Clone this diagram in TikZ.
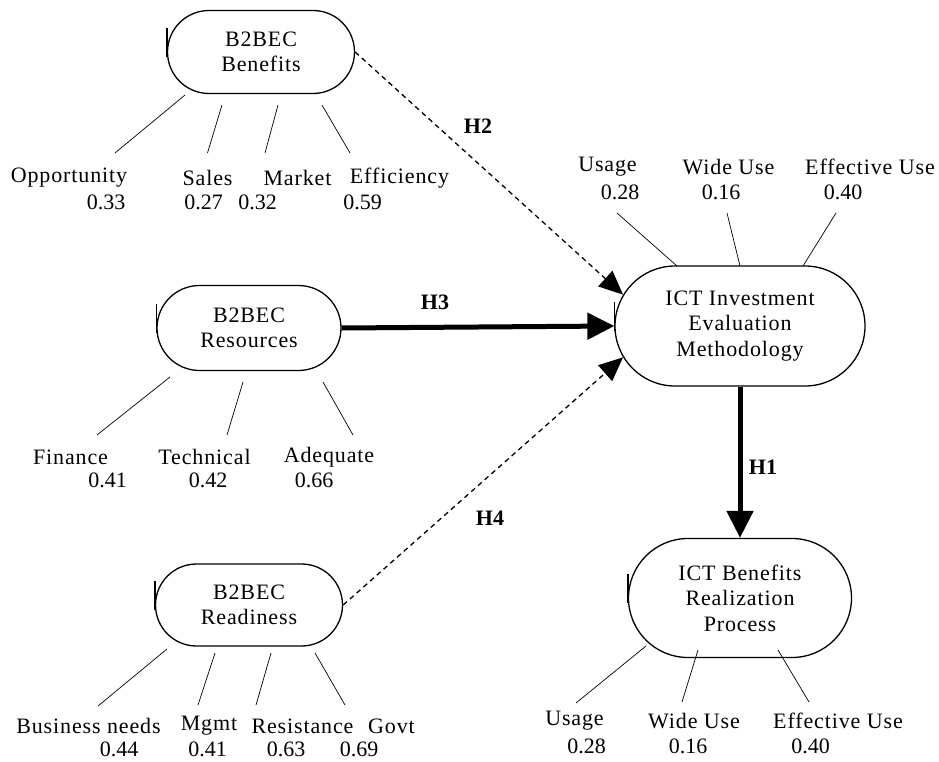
\documentclass[tikz,border=0pt]{standalone}
\usepackage{fontspec}
\setmainfont{Liberation Serif}
\newfontfamily\spacedserif[LetterSpace=4]{Liberation Serif}
\usetikzlibrary{shapes.misc,arrows.meta,calc}

\begin{document}
\begin{tikzpicture}[x=1pt, y=-1pt,
  latent/.style={rounded rectangle, draw, line width=1.3pt, align=center, inner sep=0pt, font=\spacedserif\fontsize{22}{25.5}\selectfont},
  itemname/.style={inner sep=0pt, font=\spacedserif\fontsize{22}{25}\selectfont},
  itemval/.style={inner sep=0pt, font=\fontsize{22}{25}\selectfont},
  hyplabel/.style={inner sep=0pt, font=\fontsize{22}{25}\selectfont\bfseries},
  ind/.style={line width=0.7pt},
  solidarrow/.style={-{Triangle[length=27pt,width=26pt]}, line width=5pt},
  dasharrow/.style={-{Triangle[length=24pt,width=21pt]}, line width=1.3pt, dash pattern=on 5pt off 4pt}]
  \useasboundingbox (0,0) rectangle (939,762);

  % latent constructs
  \node [latent, minimum width=187pt, minimum height=83pt] (bene) at (261,52) {B2BEC\\Benefits};
  \node [latent, minimum width=184pt, minimum height=85pt] (reso) at (249,328) {B2BEC\\Resources};
  \node [latent, minimum width=187pt, minimum height=82pt] (read) at (249,605) {B2BEC\\Readiness};
  \node [latent, minimum width=250pt, minimum height=120pt] (ictie) at (740,326) {ICT Investment\\Evaluation\\Methodology};
  \node [latent, minimum width=223pt, minimum height=119pt] (ictbr) at (740,598) {ICT Benefits\\Realization\\Process};
  \foreach \n in {bene,reso,read,ictie,ictbr}
    \draw [line width=1.3pt] ([yshift=-5pt]\n.west) -- ([yshift=24pt]\n.west);

  % hypotheses
  \draw [dasharrow] (bene.east) -- (ictie.165);
  \draw [solidarrow] (reso.east) -- (ictie.west);
  \draw [dasharrow] (read.east) -- (ictie.195);
  \draw [solidarrow] (ictie.south) -- (ictbr.north);
  \node [hyplabel] (h2) at (478,126) {H2};
  \node [hyplabel] (h3) at (435,302) {H3};
  \node [hyplabel] (h4) at (490,518) {H4};
  \node [hyplabel] (h1) at (763,467) {H1};

  % benefits indicators
  \node [itemname] (opp) at (69,178) {Opportunity};
  \node [itemval] (oppv) at (106,202) {0.33};
  \node [itemname] (sales) at (207.5,178) {Sales};
  \node [itemval] (salesv) at (203.5,202) {0.27};
  \node [itemname] (market) at (297.5,178) {Market};
  \node [itemval] (marketv) at (257.5,202) {0.32};
  \node [itemname] (effic) at (399.5,178) {Efficiency};
  \node [itemval] (efficv) at (362.5,202) {0.59};
  \draw [ind] ($(bene)+(-76,43)$) -- ($(opp)+(46,-25)$);
  \draw [ind] ($(bene)+(-39,53)$) -- ($(sales)+(0,-25)$);
  \draw [ind] ($(bene)+(17,53)$) -- ($(market)+(-32.5,-25)$);
  \draw [ind] ($(bene)+(61,53)$) -- ($(effic)+(-49.5,-25)$);

  % resources indicators
  \node [itemname] (fin) at (70.5,457) {Finance};
  \node [itemval] (finv) at (107.5,480) {0.41};
  \node [itemname] (tech) at (204.5,457) {Technical};
  \node [itemval] (techv) at (208,480) {0.42};
  \node [itemname] (adeq) at (329,457) {Adequate};
  \node [itemval] (adeqv) at (314,480) {0.66};
  \draw [ind] ($(reso)+(-79,49)$) -- ($(fin)+(26.5,-22)$);
  \draw [ind] ($(reso)+(-6,54)$) -- ($(tech)+(22.5,-22)$);
  \draw [ind] ($(reso)+(74,54)$) -- ($(adeq)+(24,-22)$);

  % readiness indicators
  \node [itemname] (busn) at (88.5,726) {Business needs};
  \node [itemval] (busnv) at (119,749) {0.44};
  \node [itemname] (mgmt) at (209,726) {Mgmt};
  \node [itemval] (mgmtv) at (207.5,749) {0.41};
  \node [itemname] (resist) at (302.5,726) {Resistance};
  \node [itemval] (resistv) at (286,749) {0.63};
  \node [itemname] (govt) at (391.5,726) {Govt};
  \node [itemval] (govtv) at (359,749) {0.69};
  \draw [ind] ($(read)+(-82,44)$) -- ($(busn)+(9.5,-20)$);
  \draw [ind] ($(read)+(-34,48)$) -- ($(mgmt)+(-11,-21)$);
  \draw [ind] ($(read)+(22,48)$) -- ($(resist)+(-46.5,-21)$);
  \draw [ind] ($(read)+(66,48)$) -- ($(govt)+(-46.5,-21)$);

  % evaluation methodology indicators
  \node [itemname] (ieuse) at (607.5,167) {Usage};
  \node [itemval] (ieusev) at (620,192) {0.28};
  \node [itemname] (iewide) at (728.5,167) {Wide Use};
  \node [itemval] (iewidev) at (721,192) {0.16};
  \node [itemname] (ieeff) at (870,167) {Effective Use};
  \node [itemval] (ieeffv) at (843,192) {0.40};
  \draw [ind] ($(ieusev)+(-3,21)$) -- ($(ictie)+(-63,-60)$);
  \draw [ind] ($(iewidev)+(6,21)$) -- ($(ictie)+(0,-60)$);
  \draw [ind] ($(ieeffv)+(-7,21)$) -- ($(ictie)+(63,-60)$);

  % realization process indicators
  \node [itemname] (bruse) at (574.5,721) {Usage};
  \node [itemval] (brusev) at (586.5,746) {0.28};
  \node [itemname] (brwide) at (694,721) {Wide Use};
  \node [itemval] (brwidev) at (688,746) {0.16};
  \node [itemname] (breff) at (838,721) {Effective Use};
  \node [itemval] (breffv) at (810.5,746) {0.40};
  \draw [ind] ($(ictbr)+(-94,48)$) -- ($(bruse)+(1.5,-18)$);
  \draw [ind] ($(ictbr)+(-42,52)$) -- ($(brwide)+(-12,-19)$);
  \draw [ind] ($(ictbr)+(38,52)$) -- ($(breff)+(-29,-19)$);
\end{tikzpicture}
\end{document}
